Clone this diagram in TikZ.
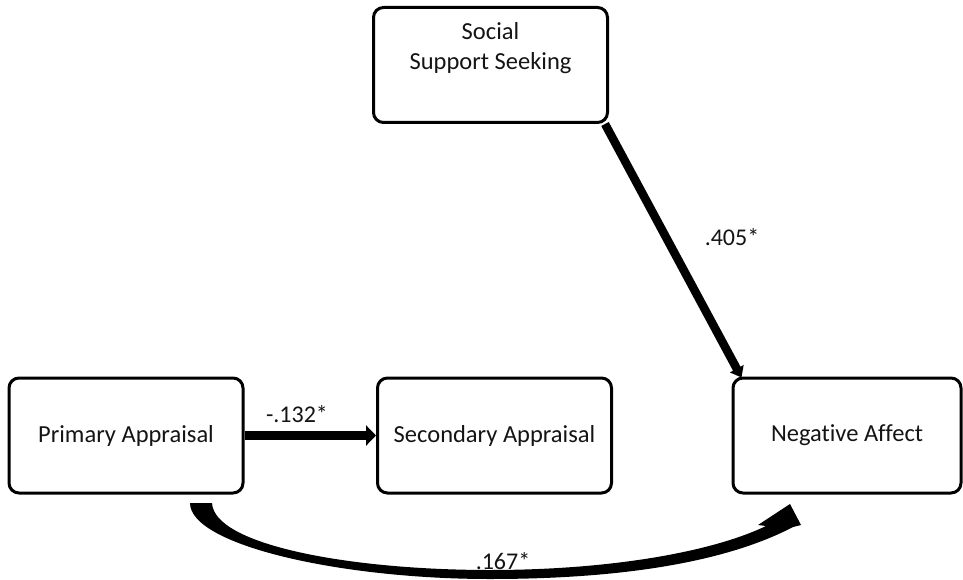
\documentclass[tikz,border=0pt]{standalone}
\usepackage{fontspec}
\setmainfont{Carlito}[Ligatures={NoCommon}]
\usetikzlibrary{arrows.meta}
\begin{document}
\begin{tikzpicture}[x=1pt,y=-1pt,
  box/.style={draw=black, line width=3pt, rounded corners=10pt, inner sep=0pt,
    minimum width=234pt, minimum height=115pt},
  txt/.style={font=\fontsize{24.5}{30}\selectfont, text=black!92, inner sep=0pt, align=center},
  lbl/.style={font=\fontsize{24}{28}\selectfont, text=black!92, inner sep=0pt},
  patharrow/.style={line width=9.5pt, -{Triangle[length=10pt,width=20pt]}},
  diagarrow/.style={line width=8.5pt, -{Triangle[length=10pt,width=15pt]}}]
\useasboundingbox (0,0) rectangle (963,580);

% boxes
\node[box] (ss) at (490.5,65) {};
\node[txt, anchor=north] (sst) at (490.5,22) {Social\\Support Seeking};
\node[box] (pa) at (126,435.5) {};
\node[txt] (pat) at (pa.center) {Primary Appraisal};
\node[box] (sa) at (494.5,435.5) {};
\node[txt] (sat) at (sa.center) {Secondary Appraisal};
\node[box, minimum width=228pt] (na) at (847,435.5) {};
\node[txt] (nat) at (na.center) {Negative Affect};

% straight arrows
\draw[patharrow] (pa.east) -- (sa.west);
\draw[diagarrow] ([xshift=-4pt]ss.south east) -- ([xshift=10pt,yshift=-1pt]na.north west);

% curved tapered arrow from Primary Appraisal to Negative Affect
\fill[black] (190,503)
  .. controls (190,545) and (340,579) .. (490,579)
  .. controls (630,579) and (730,560) .. (793,527)
  -- (801,525) -- (790,504) -- (758,525) -- (766,526)
  .. controls (712,552) and (610,570) .. (490,570)
  .. controls (350,570) and (214,545) .. (212,503) -- cycle;

% labels
\node[lbl] (l1) at (297,414) {-.132*};
\node[lbl] (l2) at (732,237) {.405*};
\node[lbl, anchor=base] (l3) at (503,569) {.167*};
\end{tikzpicture}
\end{document}
